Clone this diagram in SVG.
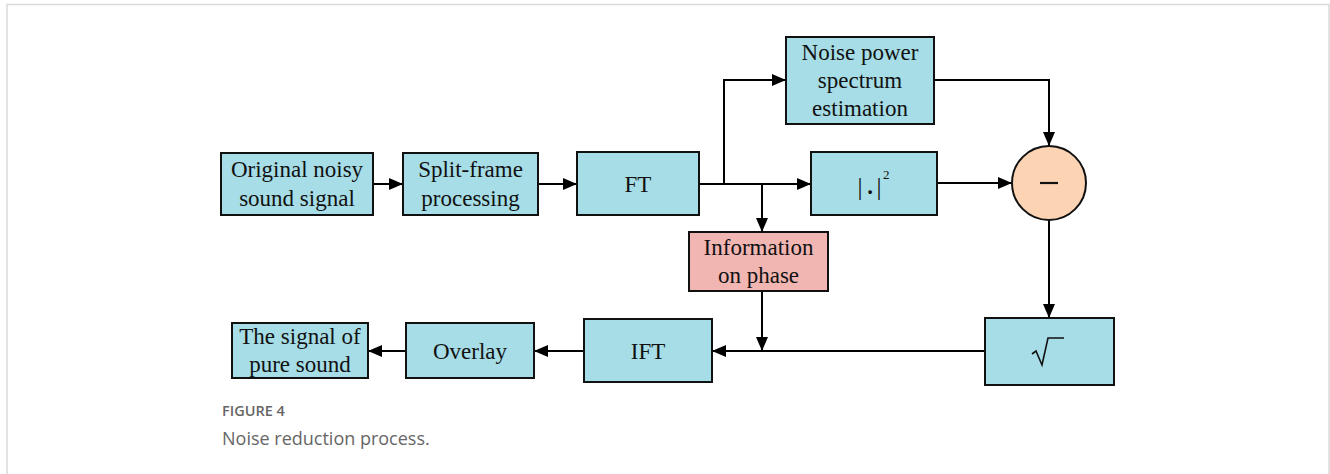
<svg xmlns="http://www.w3.org/2000/svg" width="1330" height="474" viewBox="0 0 1330 474">
<defs>
<marker id="ah" viewBox="0 0 14 12" refX="14" refY="6" markerWidth="14" markerHeight="12" markerUnits="userSpaceOnUse" orient="auto">
<path d="M0,0 L14,6 L0,12 Z" fill="#000"/>
</marker>
<style>
.box{fill:#a6dde6;stroke:#111;stroke-width:2}
.pink{fill:#f2b6b2;stroke:#111;stroke-width:2}
.circ{fill:#fdd4b3;stroke:#111;stroke-width:2}
.t{font-family:"Liberation Serif","Times New Roman",serif;font-size:23px;fill:#111;text-anchor:middle}
.c{fill:none;stroke:#000;stroke-width:2}
.cap1{font-family:"Open Sans","Liberation Sans",sans-serif;font-size:14.5px;fill:#666;font-weight:600}
.cap2{font-family:"Open Sans","Liberation Sans",sans-serif;font-size:18px;fill:#666}
</style>
</defs>
<rect width="1330" height="474" fill="#fff"/>
<path d="M7,480 L7,4.5 L1329,4.5 L1329,480" fill="none" stroke="#d9d9d9" stroke-width="1.5"/>

<g id="connectors">
<path class="c" d="M373,184 H403" marker-end="url(#ah)"/>
<path class="c" d="M538,184 H577" marker-end="url(#ah)"/>
<path class="c" d="M699,184 H811" marker-end="url(#ah)"/>
<path class="c" d="M724,184 V80 H786" marker-end="url(#ah)"/>
<path class="c" d="M762,184 V232" marker-end="url(#ah)"/>
<path class="c" d="M934,80 H1049 V146" marker-end="url(#ah)"/>
<path class="c" d="M937,183 H1012" marker-end="url(#ah)"/>
<path class="c" d="M1049,220 V318" marker-end="url(#ah)"/>
<path class="c" d="M985,351 H712" marker-end="url(#ah)"/>
<path class="c" d="M762,291 V351" marker-end="url(#ah)"/>
<path class="c" d="M584,351 H534" marker-end="url(#ah)"/>
<path class="c" d="M406,351 H368" marker-end="url(#ah)"/>
</g>

<g id="original">
<rect class="box" x="221" y="153" width="152" height="62"/>
<text class="t" x="297" y="177">Original noisy</text>
<text class="t" x="297" y="206">sound signal</text>
</g>
<g id="split">
<rect class="box" x="403" y="153" width="135" height="62"/>
<text class="t" x="470.5" y="177">Split-frame</text>
<text class="t" x="470.5" y="206">processing</text>
</g>
<g id="ft">
<rect class="box" x="577" y="152" width="122" height="63"/>
<text class="t" x="638" y="192">FT</text>
</g>
<g id="noise">
<rect class="box" x="786" y="37" width="148" height="87"/>
<text class="t" x="860" y="60">Noise power</text>
<text class="t" x="860" y="88">spectrum</text>
<text class="t" x="860" y="116">estimation</text>
</g>
<g id="square">
<rect class="box" x="811" y="152" width="126" height="63"/>
<text class="t" x="860" y="195" style="font-size:25px">|</text>
<text class="t" x="870" y="194" style="font-weight:bold">.</text>
<text class="t" x="879" y="195" style="font-size:25px">|</text>
<text x="883" y="179" style="font-family:'Liberation Serif',serif;font-size:13px;fill:#111">2</text>
</g>
<g id="minus">
<circle class="circ" cx="1049" cy="183" r="37"/>
<line x1="1040" y1="183" x2="1058" y2="183" stroke="#111" stroke-width="2.2"/>
</g>
<g id="phase">
<rect class="pink" x="689" y="232" width="139" height="59"/>
<text class="t" x="758.5" y="255">Information</text>
<text class="t" x="758.5" y="283">on phase</text>
</g>
<g id="sqrt">
<rect class="box" x="985" y="318" width="129" height="67"/>
<path d="M1032,354 L1036,351 L1042,365 L1048,338 L1064,338" fill="none" stroke="#111" stroke-width="1.6"/>
</g>
<g id="ift">
<rect class="box" x="584" y="319" width="128" height="63"/>
<text class="t" x="648" y="359">IFT</text>
</g>
<g id="overlay">
<rect class="box" x="406" y="323" width="128" height="55"/>
<text class="t" x="470" y="359">Overlay</text>
</g>
<g id="pure">
<rect class="box" x="232" y="323" width="136" height="55"/>
<text class="t" x="300" y="344">The signal of</text>
<text class="t" x="300" y="372">pure sound</text>
</g>

<text class="cap1" x="222" y="416">FIGURE 4</text>
<text class="cap2" x="222" y="445">Noise reduction process.</text>
</svg>
